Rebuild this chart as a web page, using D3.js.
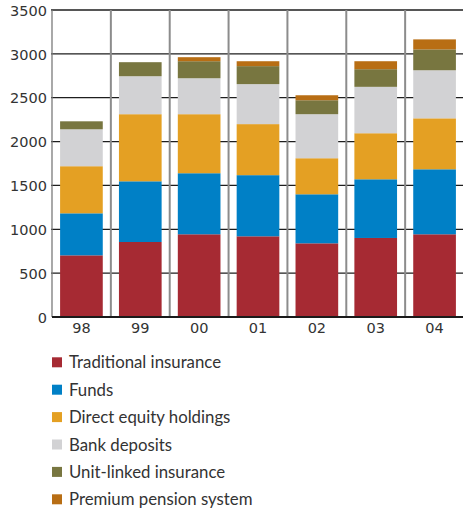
<!DOCTYPE html>
<html>
<head>
<meta charset="utf-8">
<script src="https://cdn.jsdelivr.net/npm/d3@7"></script>
<style>
  html, body { margin: 0; padding: 0; background: #fff; }
  svg { display: block; }
</style>
</head>
<body>
<svg id="chart" width="463" height="511"></svg>
<script>
// Household savings by type, SEK bn, stacked per year
const years = ["98", "99", "00", "01", "02", "03", "04"];
const seriesNames = [
  "Traditional insurance",
  "Funds",
  "Direct equity holdings",
  "Bank deposits",
  "Unit-linked insurance",
  "Premium pension system"
];
const traditionalInsurance = [703, 855, 943, 920, 840, 901, 943];
const funds                = [479, 692, 696, 697, 559, 669, 741];
const directEquity         = [537, 765, 673, 582, 411, 525, 581];
const bankDeposits         = [421, 433, 410, 456, 502, 529, 548];
const unitLinked           = [91, 160, 194, 205, 159, 201, 238];
const premiumPension       = [0, 0, 46, 56, 57, 91, 114];
const yTicks = [0, 500, 1000, 1500, 2000, 2500, 3000, 3500];
const colors = ["#a62a33", "#0080c6", "#e4a023", "#d2d2d4", "#787640", "#b86e14"];

const seriesValues = [traditionalInsurance, funds, directEquity, bankDeposits, unitLinked, premiumPension];
const rows = years.map((yr, i) => {
  const r = { year: yr };
  seriesNames.forEach((n, j) => { r[n] = seriesValues[j][i]; });
  return r;
});

const svg = d3.select("#chart");
const plotLeft = 52, plotRight = 464, plotTop = 10, plotBottom = 317;

const x = d3.scaleBand().domain(years).range([plotLeft, plotRight]).paddingInner(0).paddingOuter(0);
const y = d3.scaleLinear().domain([0, 3500]).range([plotBottom, plotTop]);

// horizontal grid lines
svg.append("g")
  .selectAll("line")
  .data(yTicks.slice(1))
  .join("line")
  .attr("x1", plotLeft - 1).attr("x2", 463)
  .attr("y1", d => y(d)).attr("y2", d => y(d))
  .attr("stroke", "#1e1e1e").attr("stroke-width", 1.3);

// vertical separators between years
svg.append("g")
  .selectAll("line")
  .data(years.slice(1))
  .join("line")
  .attr("x1", d => x(d)).attr("x2", d => x(d))
  .attr("y1", plotTop).attr("y2", plotBottom)
  .attr("stroke", "#8c8c8c").attr("stroke-width", 2);

// stacked bars
const stacked = d3.stack().keys(seriesNames)(rows);
const barW = x.bandwidth() * 0.725;
const off = (x.bandwidth() - barW) / 2;

svg.append("g")
  .selectAll("g")
  .data(stacked)
  .join("g")
  .attr("fill", (d, i) => colors[i])
  .selectAll("rect")
  .data(d => d)
  .join("rect")
  .attr("x", d => x(d.data.year) + off)
  .attr("width", barW)
  .attr("y", d => y(d[1]))
  .attr("height", d => y(d[0]) - y(d[1]));

// left axis line
svg.append("line")
  .attr("x1", plotLeft).attr("x2", plotLeft)
  .attr("y1", plotTop).attr("y2", plotBottom)
  .attr("stroke", "#7a7a7a").attr("stroke-width", 1.3);

// y axis labels
const yAxis = d3.axisLeft(y).tickValues(yTicks).tickFormat(d3.format("d")).tickSize(0).tickPadding(5);
const gy = svg.append("g").attr("transform", `translate(${plotLeft},0)`).call(yAxis);
gy.select(".domain").remove();
gy.selectAll("text")
  .attr("font-family", "'DejaVu Sans', sans-serif")
  .attr("font-size", 14.5).attr("fill", "#333").attr("dy", "0.36em");

// x axis
const xAxis = d3.axisBottom(x).tickSize(0).tickPadding(6);
const gx = svg.append("g").attr("transform", `translate(0,${plotBottom})`).call(xAxis);
gx.select(".domain").remove();
gx.selectAll("text")
  .attr("font-family", "'DejaVu Sans', sans-serif")
  .attr("font-size", 14.5).attr("fill", "#333");

// baseline
svg.append("line")
  .attr("x1", plotLeft).attr("x2", 463)
  .attr("y1", plotBottom).attr("y2", plotBottom)
  .attr("stroke", "#1a1a1a").attr("stroke-width", 2.2);

// legend
const legend = svg.append("g")
  .selectAll("g")
  .data(seriesNames)
  .join("g")
  .attr("transform", (d, i) => `translate(52,${362.3 + i * 27.4})`);
legend.append("rect")
  .attr("x", 0).attr("y", -5).attr("width", 10).attr("height", 10)
  .attr("fill", (d, i) => colors[i]);
legend.append("text")
  .attr("x", 17).attr("y", 0).attr("dy", "0.36em")
  .attr("font-family", "Lato, sans-serif")
  .attr("font-size", 16.8)
  .attr("fill", "#333")
  .text(d => d);
</script>
</body>
</html>
